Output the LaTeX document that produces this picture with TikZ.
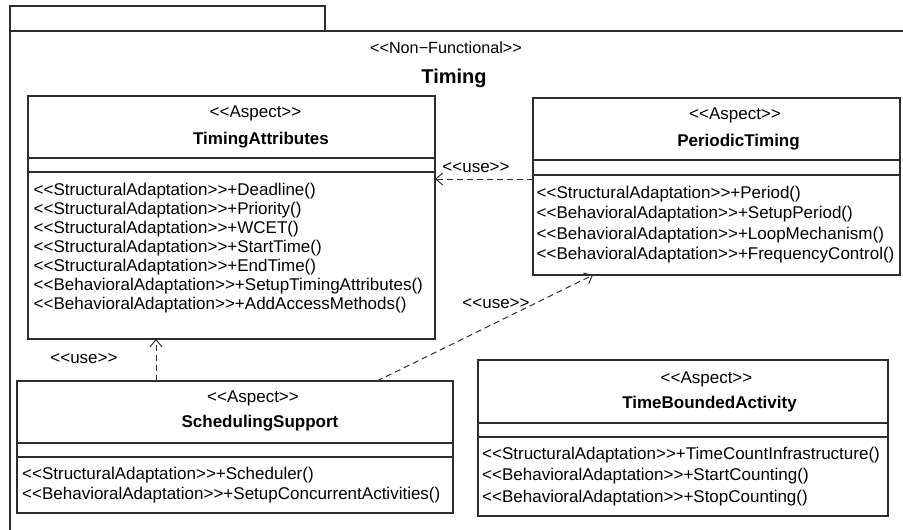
\documentclass[tikz,border=0pt]{standalone}
\usepackage{fontspec}
\setmainfont{Liberation Sans}[Ligatures=TeXOff]
\usetikzlibrary{arrows.meta}
\definecolor{ln}{RGB}{45,45,45}
\begin{document}
\begin{tikzpicture}[x=1pt,y=-1pt,
  box/.style={draw=ln, line width=1.1pt, rectangle, inner sep=0pt, outer sep=0pt},
  divider/.style={draw=ln, line width=1.1pt},
  txt/.style={inner sep=0pt, font=\fontsize{17}{19}\selectfont, text=black},
  stereo/.style={txt, anchor=base},
  cname/.style={txt, anchor=base, font=\fontsize{17}{19}\selectfont\bfseries},
  meth/.style={txt, anchor=base west},
  dep/.style={draw=ln, line width=1pt, dash pattern=on 6pt off 4pt, -{Straight Barb[length=7pt,width=12pt]}},
  lbl/.style={txt, anchor=base}]
\useasboundingbox (0,0) rectangle (903,530);
\clip (0,0) rectangle (903,530);

% package frame
\node[box, minimum width=315pt, minimum height=25pt] (pkgtab) at (167.5,18.5) {};
\draw[divider] (10,545) -- (10,31) -- (920,31);
\node[stereo, font=\fontsize{16.2}{19}\selectfont] (pkgst) at (446,53) {<<Non−Functional>>};
\node[cname, font=\fontsize{20}{24}\selectfont\bfseries] (pkgname) at (454,83) {Timing};

% TimingAttributes
\node[box, minimum width=407pt, minimum height=243pt] (ta) at (231.5,217.5) {};
\draw[divider] (28,158) -- (435,158);
\draw[divider] (28,172) -- (435,172);
\node[stereo] (tast) at (255.5,117) {<<Aspect>>};
\node[cname] (taname) at (261,144) {TimingAttributes};
\node[meth] (ta1) at (33.5,195) {<<StructuralAdaptation>>+Deadline()};
\node[meth] (ta2) at (33.5,214) {<<StructuralAdaptation>>+Priority()};
\node[meth] (ta3) at (33.5,233) {<<StructuralAdaptation>>+WCET()};
\node[meth] (ta4) at (33.5,252) {<<StructuralAdaptation>>+StartTime()};
\node[meth] (ta5) at (33.5,271) {<<StructuralAdaptation>>+EndTime()};
\node[meth] (ta6) at (33.5,290) {<<BehavioralAdaptation>>+SetupTimingAttributes()};
\node[meth] (ta7) at (33.5,309) {<<BehavioralAdaptation>>+AddAccessMethods()};

% PeriodicTiming
\node[box, minimum width=367pt, minimum height=177pt] (pt) at (716.5,186.5) {};
\draw[divider] (533,160) -- (900,160);
\draw[divider] (533,175) -- (900,175);
\node[stereo] (ptst) at (735,119) {<<Aspect>>};
\node[cname] (ptname) at (738.5,146) {PeriodicTiming};
\node[meth] (pt1) at (536.5,198) {<<StructuralAdaptation>>+Period()};
\node[meth] (pt2) at (536.5,218.5) {<<BehavioralAdaptation>>+SetupPeriod()};
\node[meth] (pt3) at (536.5,239) {<<BehavioralAdaptation>>+LoopMechanism()};
\node[meth] (pt4) at (536.5,259) {<<BehavioralAdaptation>>+FrequencyControl()};

% SchedulingSupport
\node[box, minimum width=436pt, minimum height=132pt] (ss) at (235,447) {};
\draw[divider] (17,443) -- (453,443);
\draw[divider] (17,457) -- (453,457);
\node[stereo] (ssst) at (253,402) {<<Aspect>>};
\node[cname] (ssname) at (260,427) {SchedulingSupport};
\node[meth] (ss1) at (22,479) {<<StructuralAdaptation>>+Scheduler()};
\node[meth] (ss2) at (22,499) {<<BehavioralAdaptation>>+SetupConcurrentActivities()};

% TimeBoundedActivity
\node[box, minimum width=410pt, minimum height=156pt] (tba) at (683,438) {};
\draw[divider] (478,423) -- (888,423);
\draw[divider] (478,437) -- (888,437);
\node[stereo] (tbast) at (706.5,383) {<<Aspect>>};
\node[cname] (tbaname) at (709.5,408) {TimeBoundedActivity};
\node[meth] (tba1) at (482,459) {<<StructuralAdaptation>>+TimeCountInfrastructure()};
\node[meth] (tba2) at (482,480) {<<BehavioralAdaptation>>+StartCounting()};
\node[meth] (tba3) at (482,502) {<<BehavioralAdaptation>>+StopCounting()};

% dependencies
\draw[dep] ([yshift=7.5pt]pt.west) -- ([yshift=38.5pt]ta.east);
\node[lbl] (use1) at (476,172) {<<use>>};
\draw[dep] ([xshift=-79pt]ss.north) -- ([xshift=-75.5pt]ta.south);
\node[lbl] (use2) at (84,363) {<<use>>};
\draw[dep] ([xshift=142pt]ss.north) -- ([xshift=-123.5pt]pt.south);
\node[lbl] (use3) at (496,308) {<<use>>};
\end{tikzpicture}
\end{document}
